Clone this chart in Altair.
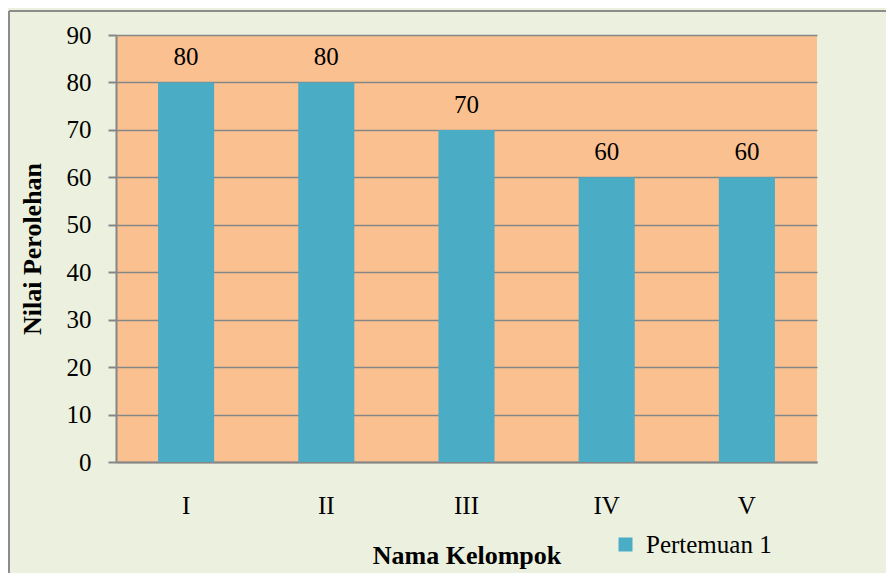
import altair as alt
import pandas as pd

kelompok = ["I", "II", "III", "IV", "V"]
nilai = [80, 80, 70, 60, 60]
series = ["Pertemuan 1"] * 5
y_ticks = [0, 10, 20, 30, 40, 50, 60, 70, 80, 90]

df = pd.DataFrame({"kelompok": kelompok, "nilai": nilai, "series": series})

FONT = "Liberation Serif"
GRAY = "#868686"
W, H = 701, 427

x_enc = alt.X(
    "kelompok:N", sort=kelompok,
    scale=alt.Scale(paddingInner=0, paddingOuter=0),
    axis=alt.Axis(
        title="Nama Kelompok", labelAngle=0, ticks=False,
        labelFont=FONT, labelFontSize=25, labelColor="black", labelPadding=31,
        titleFont=FONT, titleFontSize=26, titleFontWeight="bold", titleColor="black",
        titleBaseline="alphabetic", titleY=101,
        domainColor=GRAY, domainWidth=2,
    ),
)
y_enc = alt.Y(
    "nilai:Q", scale=alt.Scale(domain=[0, 90], nice=False),
    axis=alt.Axis(
        title="Nilai Perolehan", values=y_ticks, grid=True,
        gridColor=GRAY, gridWidth=1.6, tickColor=GRAY, tickWidth=2, tickSize=8,
        domainColor=GRAY, domainWidth=2,
        labelFont=FONT, labelFontSize=25, labelColor="black", labelPadding=17,
        titleFont=FONT, titleFontSize=26, titleFontWeight="bold", titleColor="black",
        titleBaseline="alphabetic", titleX=-76,
    ),
)

base = alt.Chart(df).encode(x=x_enc, y=y_enc)

bars = base.mark_bar(width=alt.RelativeBandSize(0.4)).encode(
    color=alt.Color(
        "series:N",
        scale=alt.Scale(range=["#4bacc6"]),
        legend=alt.Legend(
            title=None, orient="none", legendX=497, legendY=497, padding=0,
            symbolType="square", symbolSize=196, symbolStrokeWidth=0,
            labelFont=FONT, labelFontSize=25, labelColor="black", labelOffset=8,
        ),
    ),
)

labels = base.mark_text(
    dy=-17, baseline="alphabetic", font=FONT, fontSize=25, color="black"
).encode(text="nilai:Q")

frame_df = pd.DataFrame({"a": [0]})
left_border = alt.Chart(frame_df).mark_rule(color="#8c8c8c", strokeWidth=2).encode(
    x=alt.value(-107), y=alt.value(-24), y2=alt.value(H + 120)
)
top_border = alt.Chart(frame_df).mark_rule(color="#8c8c8c", strokeWidth=2).encode(
    x=alt.value(-107), x2=alt.value(W + 80), y=alt.value(-24)
)

chart = (
    alt.layer(bars, labels, left_border, top_border)
    .properties(
        width=W, height=H,
        autosize=alt.AutoSizeParams(type="none"),
        padding={"left": 108, "top": 27, "right": 69, "bottom": 111},
        background="#ebf1de",
    )
    .configure_view(fill="#fac090", strokeWidth=0)
)

chart.save("out.html", embed_options={"renderer": "svg", "actions": False})
